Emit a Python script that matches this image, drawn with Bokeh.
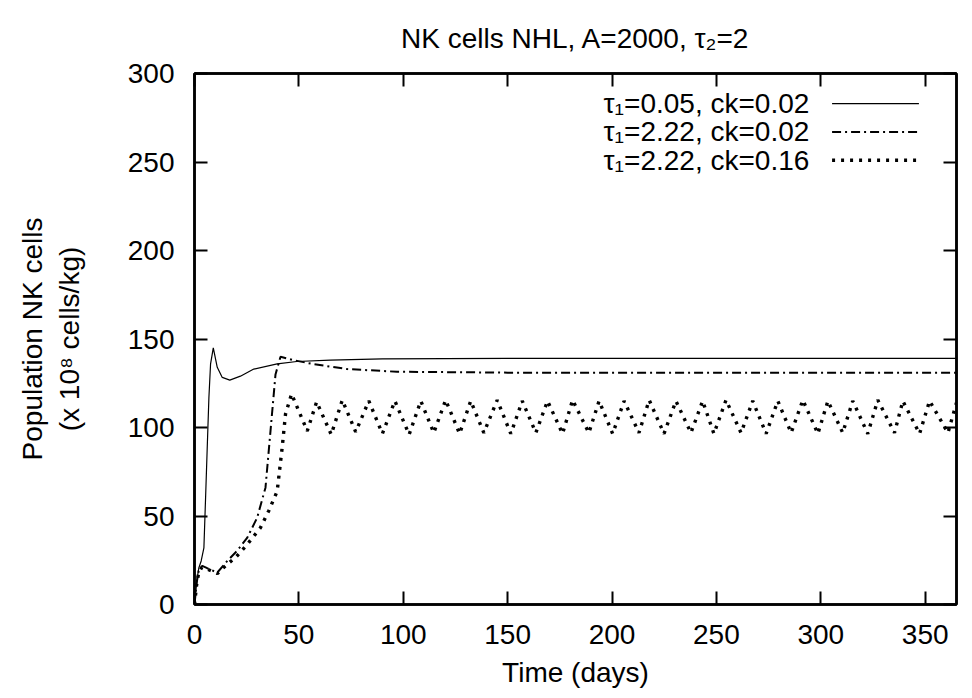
from bokeh.plotting import figure
from bokeh.models import Range1d, LinearAxis, FixedTicker, Label
from bokeh.embed import file_html
from bokeh.resources import INLINE

# ---- data ----
t_a = [0, 0.5, 1.3, 2.1, 3.2, 4.5, 5.3, 6.1, 6.9, 7.7, 9.0, 10.9, 13.3, 16.9, 22, 28.4, 39.6, 49, 65, 90, 150, 250, 365]
y_a = [0, 6, 15, 20.8, 24.6, 32, 60, 88.7, 117, 136, 145, 134, 128.3, 126.8, 129, 133, 135.9, 137.3, 138.1, 138.8, 139, 139, 139]

t_b = [0, 1, 2, 3.7, 6.1, 10.9, 15.7, 20.4, 25.3, 30, 34, 36.4, 38.8, 41.2, 47.6, 57, 73.2, 97, 150, 250, 365]
y_b = [0, 12, 19, 21.8, 20.5, 18, 24.6, 30.3, 37.8, 49, 66, 98, 130, 140, 138, 135.8, 133, 131.5, 131, 131, 131]

t_c = [0, 1, 2, 3.5, 6, 11, 15, 20, 25.3, 31.6, 35.6, 39.6, 42, 43.6, 46.5,
       54, 58.5, 65.5, 70.8, 77.2, 83.5, 90, 96, 102.8, 108.4, 114.6, 120.3, 127, 132.3,
       138.6, 145, 151.5, 157, 163.5, 169.1, 176.3, 181.1, 188.9, 193.8, 200.3, 205.8,
       212.9, 217.8, 224.9, 230.6, 237.8, 243.4, 248.8, 254.6, 261.8, 267.4, 273.8, 279.4,
       285.8, 291.4, 298.6, 303.4, 310.5, 315.3, 322.5, 327.3, 335.3, 339.3, 347.3, 352.1,
       360.9, 365]
y_c = [0, 11, 18, 21, 20, 17.5, 22, 27, 34, 43.4, 53, 64, 88.7, 107.6, 119,
       98, 114.5, 96, 115.5, 97.5, 115, 96.5, 115, 96, 115, 97, 115.5, 96.5, 115,
       97, 115.5, 96.5, 115, 97, 115, 96.5, 115.5, 97, 115, 96.5, 115,
       97, 115.5, 96.5, 115, 97, 115, 96.5, 115.5, 97, 115, 96.5, 115,
       97, 115.5, 96.5, 115, 97, 115, 96.5, 115.5, 97, 115, 96.5, 115,
       97, 114]

x_ticks = [0, 50, 100, 150, 200, 250, 300, 350]
y_ticks = [0, 50, 100, 150, 200, 250, 300]

labels = ["τ₁=0.05, ck=0.02", "τ₁=2.22, ck=0.02", "τ₁=2.22, ck=0.16"]

FONT = "Liberation Sans"
FS = "28px"

p = figure(width=964, height=690, output_backend="svg", toolbar_location=None,
           x_range=Range1d(0, 365), y_range=Range1d(0, 300),
           min_border_left=194, min_border_right=8, min_border_top=73, min_border_bottom=86,
           x_axis_label="Time (days)", y_axis_label="Population NK cells\n(x 10⁸ cells/kg)")

p.title.text = "NK cells NHL, A=2000, τ₂=2"
p.title.align = "center"
p.title.text_font = FONT
p.title.text_font_size = FS
p.title.text_font_style = "normal"
p.title.text_color = "black"
p.title.standoff = 39

p.grid.visible = False
p.outline_line_color = "black"
p.outline_line_width = 2.5
p.background_fill_color = "white"
p.border_fill_color = "white"

p.xaxis.ticker = FixedTicker(ticks=x_ticks)
p.yaxis.ticker = FixedTicker(ticks=y_ticks)

for ax in (p.xaxis[0], p.yaxis[0]):
    ax.major_tick_in = 13
    ax.major_tick_out = 0
    ax.minor_tick_line_color = None
    ax.major_tick_line_width = 2
    ax.axis_line_width = 2.5
    ax.major_label_text_font = FONT
    ax.major_label_text_font_size = FS
    ax.major_label_text_color = "black"
    ax.axis_label_text_font = FONT
    ax.axis_label_text_font_size = FS
    ax.axis_label_text_font_style = "normal"
    ax.axis_label_text_color = "black"
p.xaxis.major_label_standoff = 20
p.xaxis.axis_label_standoff = 10
p.yaxis.major_label_standoff = 20
p.yaxis.axis_label_standoff = 40

top = LinearAxis(ticker=FixedTicker(ticks=x_ticks), major_tick_in=13, major_tick_out=0,
                 minor_tick_line_color=None, major_tick_line_width=2, axis_line_width=2.5,
                 major_label_overrides={t: "" for t in x_ticks}, major_label_standoff=0)
right = LinearAxis(ticker=FixedTicker(ticks=y_ticks), major_tick_in=13, major_tick_out=0,
                   minor_tick_line_color=None, major_tick_line_width=2, axis_line_width=2.5,
                   major_label_overrides={t: "" for t in y_ticks}, major_label_standoff=0)
p.add_layout(top, "above")
p.add_layout(right, "right")

styles = [dict(line_width=1.2, line_dash="solid"),
          dict(line_width=2.0, line_dash="9 4 2 4"),
          dict(line_width=3.4, line_dash="3 6")]

p.line(t_a, y_a, line_color="black", **styles[0])
p.line(t_b, y_b, line_color="black", **styles[1])
p.line(t_c, y_c, line_color="black", **styles[2])

# manual key (text right-aligned, sample line to the right), as in the reference
key_text_x = 294.5
key_x0, key_x1 = 305.4, 347
key_rows = [283, 267, 251]
for lab, yy, st in zip(labels, key_rows, styles):
    p.add_layout(Label(x=key_text_x, y=yy, text=lab, text_align="right", text_baseline="middle",
                       text_font=FONT, text_font_size=FS, text_color="black"))
    p.line([key_x0, key_x1], [yy, yy], line_color="black", **st)

open("out.html", "w").write(file_html(p, INLINE))
